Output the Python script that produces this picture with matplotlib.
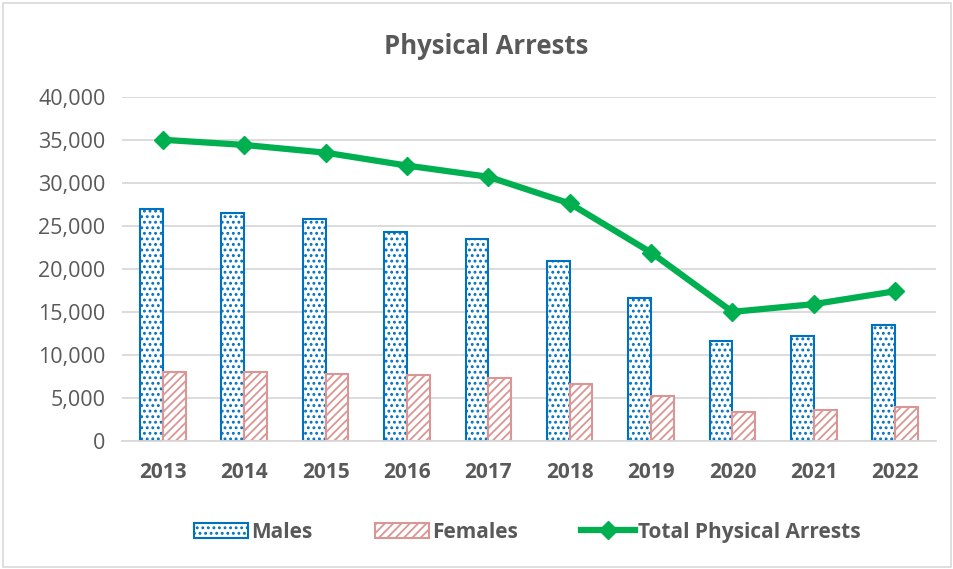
import numpy as np
import matplotlib.pyplot as plt
from matplotlib.patches import Rectangle

years = ["2013", "2014", "2015", "2016", "2017", "2018", "2019", "2020", "2021", "2022"]
males = [27000, 26500, 25800, 24300, 23500, 20900, 16600, 11600, 12200, 13500]
females = [8000, 8000, 7800, 7700, 7300, 6600, 5200, 3400, 3600, 4000]
total = [35000, 34400, 33500, 32000, 30700, 27600, 21900, 15000, 15900, 17400]

plt.rcParams['font.family'] = ['Open Sans', 'DejaVu Sans']
plt.rcParams['hatch.linewidth'] = 1.3
grey = '#595959'

fig = plt.figure(figsize=(9.54, 5.69), dpi=100)
ax = fig.add_axes([0.128, 0.225, 0.853, 0.605])

x = np.arange(len(years))
w = 0.28
b1 = ax.bar(x - w / 2, males, w, facecolor='white', edgecolor='#0070C0', hatch='...', linewidth=1.5, label='Males')
b2 = ax.bar(x + w / 2, females, w, facecolor='white', edgecolor='#DA9694', hatch='////', linewidth=1.5, label='Females')
l1, = ax.plot(x, total, color='#00B050', linewidth=4.5, marker='D', markersize=9, label='Total Physical Arrests')

ax.set_xlim(-0.5, len(years) - 0.5)
ax.set_ylim(0, 40000)
ax.set_yticks(range(0, 40001, 5000))
ax.set_yticklabels([f'{v:,}' for v in range(0, 40001, 5000)], fontsize=15.5, color=grey)
ax.set_xticks(x)
ax.set_xticklabels(years, fontsize=15, fontweight='bold', color=grey)
ax.tick_params(axis='x', length=0, pad=15)
ax.tick_params(axis='y', length=0, pad=12)
ax.grid(axis='y', color='#D9D9D9', linewidth=1.3)
ax.set_axisbelow(True)
for s in ['top', 'right', 'left']:
    ax.spines[s].set_visible(False)
ax.spines['bottom'].set_color('#D9D9D9')
ax.spines['bottom'].set_linewidth(1.3)

fig.text(0.51, 0.918, 'Physical Arrests', ha='center', va='center', fontsize=18.5, fontweight='bold', color=grey)

leg = fig.legend([b1, b2, l1], ['Males', 'Females', 'Total Physical Arrests'], loc='center',
                 bbox_to_anchor=(0.553, 0.065), ncol=3, frameon=False, fontsize=15,
                 handlelength=2.6, columnspacing=3.0, handletextpad=0.15)
for t in leg.get_texts():
    t.set_color(grey)
    t.set_fontweight('bold')

fig.patches.append(Rectangle((0.003, 0.004), 0.994, 0.99, transform=fig.transFigure,
                             fill=False, edgecolor='#D9D9D9', linewidth=1.2))

fig.savefig('out.png', dpi=100)
